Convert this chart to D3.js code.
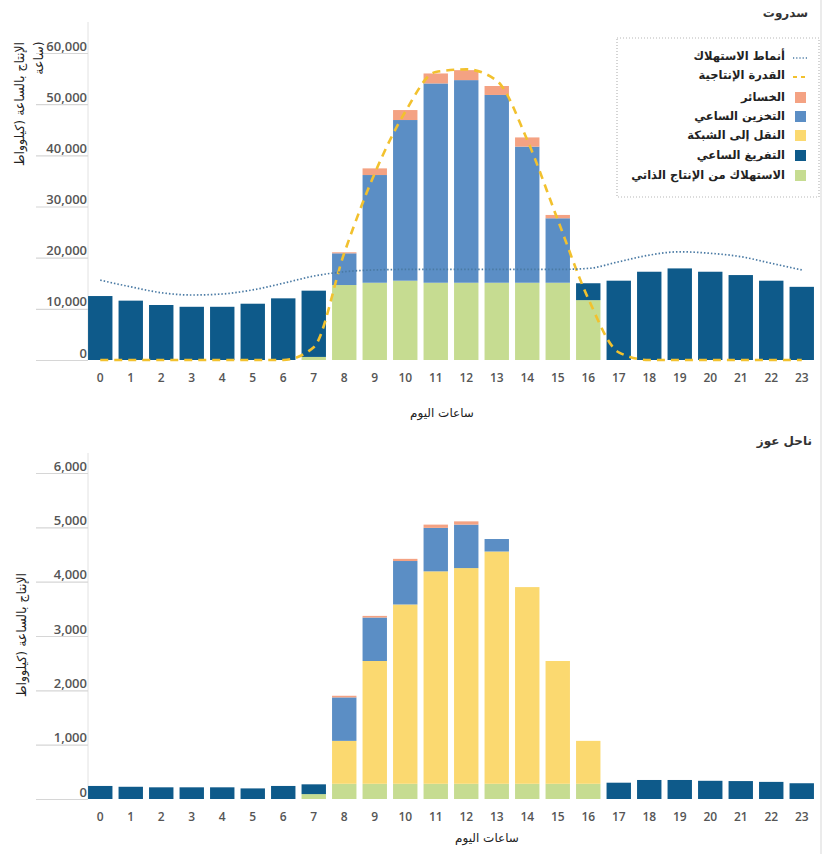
<!DOCTYPE html>
<html><head><meta charset="utf-8">
<script src="https://cdn.jsdelivr.net/npm/d3@7"></script>
<style>body{margin:0;background:#fff}svg{display:block}</style>
</head><body>
<svg id="c" width="825" height="854"></svg>
<script>
// ---------- DATA ----------
const hours = [0,1,2,3,4,5,6,7,8,9,10,11,12,13,14,15,16,17,18,19,20,21,22,23];
const seriesKeys = ["selfCons","discharge","toGrid","storage","losses"];
const seriesLabels = ["الاستهلاك من الإنتاج الذاتي","التفريغ الساعي","النقل إلى الشبكة","التخزين الساعي","الخسائر"];
const seriesColors = ["#c6dc91","#0e5a8a","#fbd970","#5b8ec5","#f4a283"];
const lineLabels = ["أنماط الاستهلاك","القدرة الإنتاجية"];

// Sderot (kWh)
const sderotSelfCons  = [0,0,0,0,0,0,0,600,14650,15100,15500,15100,15100,15100,15100,15100,11700,0,0,0,0,0,0,0];
const sderotDischarge = [12500,11600,10750,10400,10400,11000,12050,12950,0,0,0,0,0,0,0,0,3300,15500,17250,17900,17250,16600,15500,14300];
const sderotToGrid    = [0,0,0,0,0,0,0,0,0,0,0,0,0,0,0,0,0,0,0,0,0,0,0,0];
const sderotStorage   = [0,0,0,0,0,0,0,0,6200,21050,31400,38950,39600,36700,26600,12600,0,0,0,0,0,0,0,0];
const sderotLosses    = [0,0,0,0,0,0,0,0,200,1300,1950,1950,1950,1750,1800,650,0,0,0,0,0,0,0,0];
const sderotConsumption = [15600,14300,13150,12700,12900,13700,15000,16400,17250,17600,17700,17700,17700,17700,17700,17700,17900,19200,20500,21150,20850,20200,18900,17600];
const sderotCapacity  = [0,0,0,0,0,0,0,2500,20900,36500,48500,56300,56800,54600,43000,27400,12000,1500,0,0,0,0,0,0];
const sderotTicks = [0,10000,20000,30000,40000,50000,60000];

// Nahal Oz (kWh)
const nahalSelfCons  = [0,0,0,0,0,0,0,90,280,280,280,280,280,280,280,280,280,0,0,0,0,0,0,0];
const nahalDischarge = [240,225,215,215,215,195,240,180,0,0,0,0,0,0,0,0,0,300,350,350,335,330,315,290];
const nahalToGrid    = [0,0,0,0,0,0,0,0,790,2260,3300,3910,3970,4275,3620,2260,790,0,0,0,0,0,0,0];
const nahalStorage   = [0,0,0,0,0,0,0,0,800,800,800,800,800,230,0,0,0,0,0,0,0,0,0,0];
const nahalLosses    = [0,0,0,0,0,0,0,0,30,30,40,60,60,0,0,0,0,0,0,0,0,0,0,0];
const nahalTicks = [0,1000,2000,3000,4000,5000,6000];

const titles = ["سدروت","ناحل عوز"];
const xTitle = "ساعات اليوم";
const yTitle1 = "الإنتاج بالساعة (كيلوواط";
const yTitle2 = "ساعة)";

// ---------- DRAW ----------
const svg = d3.select("#c");
const numFont = "'Open Sans', sans-serif";
const arFont = "'DejaVu Sans', sans-serif";

svg.append("line").attr("x1",821).attr("x2",821).attr("y1",0).attr("y2",854)
  .attr("stroke","#e4e4e4").attr("stroke-width",1.5);

const x = d3.scaleBand().domain(hours).range([85,817]).paddingInner(0.2).paddingOuter(0.1);

function drawChart(cfg){
  const y = d3.scaleLinear().domain([0,cfg.yMax]).range([cfg.y0,cfg.yTop]);
  const g = svg.append("g");
  const rows = hours.map((h,i)=>({hour:h, selfCons:cfg.selfCons[i], discharge:cfg.discharge[i],
     toGrid:cfg.toGrid[i], storage:cfg.storage[i], losses:cfg.losses[i]}));
  g.append("line").attr("x1",88).attr("x2",88).attr("y1",cfg.axisTop).attr("y2",cfg.y0)
    .attr("stroke","#e2e2e2").attr("stroke-width",1);
  const ya = g.append("g").attr("transform","translate(88,0)")
    .call(d3.axisLeft(y).tickValues(cfg.ticks).tickSize(52).tickFormat(d3.format(",")));
  ya.select(".domain").remove();
  ya.selectAll(".tick line").attr("stroke","#d6d6d6").attr("stroke-width",1.2);
  ya.selectAll(".tick text").attr("x",-1).attr("y",-3).attr("dy",0)
    .attr("font-family",numFont).attr("font-size",13).attr("font-weight",600).attr("fill","#555");
  const stack = d3.stack().keys(seriesKeys)(rows);
  stack.forEach((layer,li)=>{
    g.append("g").attr("fill",seriesColors[li]).selectAll("rect").data(layer).join("rect")
      .attr("x",d=>x(d.data.hour)).attr("width",x.bandwidth())
      .attr("y",d=>y(d[1])).attr("height",d=>Math.max(0,y(d[0])-y(d[1])));
  });
  if(cfg.consumption){
    const line = d3.line().x((d,i)=>x(hours[i])+x.bandwidth()/2).y(d=>y(d)).curve(d3.curveMonotoneX);
    g.append("path").attr("d",line(cfg.capacity)).attr("fill","none")
      .attr("stroke","#f2c12e").attr("stroke-width",2.6).attr("stroke-dasharray","8,6");
    g.append("path").attr("d",line(cfg.consumption)).attr("fill","none")
      .attr("stroke","#4a7aa4").attr("stroke-width",1.7).attr("stroke-dasharray","1.5,2");
  }
  g.append("g").selectAll("text").data(hours).join("text")
    .attr("x",d=>x(d)+x.bandwidth()/2).attr("y",cfg.y0+22).attr("text-anchor","middle")
    .attr("font-family",numFont).attr("font-size",12).attr("font-weight",600).attr("fill","#555")
    .text(d=>d);
  g.append("text").attr("x",cfg.xTitleX).attr("y",cfg.xTitleY).attr("text-anchor","middle")
    .attr("font-family",arFont).attr("font-size",12).attr("fill","#222").text(xTitle);
  g.append("text").attr("x",cfg.titleX).attr("y",cfg.titleY).attr("text-anchor","end")
    .attr("font-family",arFont).attr("font-size",12).attr("font-weight","bold").attr("fill","#333").text(cfg.title);
  g.append("text").attr("transform",`translate(${cfg.yt1x},${cfg.yt1y}) rotate(-90)`)
    .attr("text-anchor","middle").attr("font-family",arFont).attr("font-size",12.5).attr("fill","#222").text(yTitle1);
  if(cfg.yt2){
    g.append("text").attr("transform",`translate(${cfg.yt2[0]},${cfg.yt2[1]}) rotate(-90)`)
      .attr("text-anchor","middle").attr("font-family",arFont).attr("font-size",12.5).attr("fill","#222").text(yTitle2);
  }
}

drawChart({yMax:60000, y0:360, yTop:53, axisTop:22, ticks:sderotTicks,
  selfCons:sderotSelfCons, discharge:sderotDischarge, toGrid:sderotToGrid, storage:sderotStorage, losses:sderotLosses,
  consumption:sderotConsumption, capacity:sderotCapacity,
  xTitleX:442, xTitleY:417, title:titles[0], titleX:808, titleY:17,
  yt1x:24, yt1y:104, yt2:[43,58]});

drawChart({yMax:6000, y0:799, yTop:473, axisTop:453, ticks:nahalTicks,
  selfCons:nahalSelfCons, discharge:nahalDischarge, toGrid:nahalToGrid, storage:nahalStorage, losses:nahalLosses,
  xTitleX:487, xTitleY:842, title:titles[1], titleX:812, titleY:445,
  yt1x:26, yt1y:635});

// legend
const lg = svg.append("g");
lg.append("rect").attr("x",617).attr("y",38).attr("width",202).attr("height",159)
  .attr("fill","#fff").attr("stroke","#b8b8b8").attr("stroke-dasharray","1,2").attr("stroke-width",1.2);
const legendItems = [
  {label:lineLabels[0], type:"dot", color:"#4a7aa4", y:56},
  {label:lineLabels[1], type:"dash", color:"#f2c12e", y:75},
  {label:seriesLabels[4], type:"rect", color:seriesColors[4], y:97},
  {label:seriesLabels[3], type:"rect", color:seriesColors[3], y:116},
  {label:seriesLabels[2], type:"rect", color:seriesColors[2], y:135},
  {label:seriesLabels[1], type:"rect", color:seriesColors[1], y:155},
  {label:seriesLabels[0], type:"rect", color:seriesColors[0], y:175}
];
legendItems.forEach(it=>{
  if(it.type==="rect"){
    lg.append("rect").attr("x",795).attr("y",it.y-5).attr("width",11).attr("height",11).attr("fill",it.color);
  } else if(it.type==="dot"){
    lg.append("line").attr("x1",793).attr("x2",808).attr("y1",it.y+2).attr("y2",it.y+2)
      .attr("stroke",it.color).attr("stroke-width",1.4).attr("stroke-dasharray","1.2,2");
  } else {
    lg.append("line").attr("x1",793).attr("x2",808).attr("y1",it.y+2).attr("y2",it.y+2)
      .attr("stroke",it.color).attr("stroke-width",2).attr("stroke-dasharray","4,4");
  }
  lg.append("text").attr("x",785).attr("y",it.y+4).attr("text-anchor","end")
    .attr("font-family",arFont).attr("font-size",11.5).attr("font-weight","bold").attr("fill","#222").text(it.label);
});
</script>
</body></html>
